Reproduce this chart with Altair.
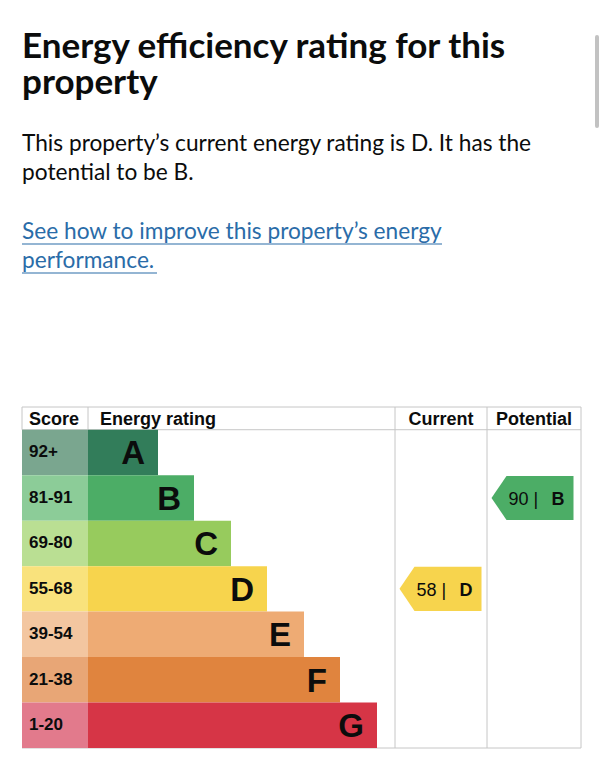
import altair as alt
import pandas as pd

# ---------------- data ----------------
ratings = ["A", "B", "C", "D", "E", "F", "G"]
score_ranges = ["92+", "81-91", "69-80", "55-68", "39-54", "21-38", "1-20"]
bar_ends = [136, 172, 209, 245, 282, 318, 355]  # right edge of each rating band
bar_colors = ["#327d5a", "#4cad66", "#97cb5d", "#f7d44d", "#eeab74", "#e0843e", "#d63546"]
score_colors = ["#7aa68f", "#8ccc98", "#badf93", "#f9e27c", "#f3c6a0", "#e8a676", "#e27a8c"]
headers = ["Score", "Energy rating", "Current", "Potential"]
arrow_columns = ["Current", "Potential"]
arrow_scores = [58, 90]
arrow_ratings = ["D", "B"]

title_lines = ["Energy efficiency rating for this", "property"]
intro_lines = ["This property\u2019s current energy rating is D. It has the", "potential to be B."]
link_lines = ["See how to improve this property\u2019s energy", "performance."]

# ---------------- layout ----------------
W, H = 559, 341
COL_SCORE, COL_ENERGY, COL_CURRENT, COL_POTENTIAL, COL_END = 0, 66, 373, 465, 559
HEADER = 0.5
Y_MAX = 7.5
FONT = "Liberation Sans"
PAGE_FONT = "Lato"
INK = "#0b0c0c"
LINE = "#c6c6c6"

xs = alt.Scale(domain=[0, W], nice=False, zero=False)
ys = alt.Scale(domain=[0, Y_MAX], nice=False, zero=False, reverse=True)

rows = pd.DataFrame({
    "rating": ratings,
    "score_range": score_ranges,
    "bar_end": bar_ends,
    "bar_color": bar_colors,
    "score_color": score_colors,
})
rows["top"] = [HEADER + i for i in range(len(ratings))]
rows["bot"] = rows["top"] + 1
rows["mid"] = rows["top"] + 0.5
rows["x_score"] = COL_SCORE
rows["x_energy"] = COL_ENERGY

grid = pd.DataFrame([
    {"x": 0, "x2": COL_END, "y": 0, "y2": 0},
    {"x": 0, "x2": COL_END, "y": HEADER, "y2": HEADER},
    {"x": 0, "x2": COL_END, "y": Y_MAX, "y2": Y_MAX},
    {"x": 0, "x2": 0, "y": 0, "y2": HEADER},
    {"x": COL_ENERGY, "x2": COL_ENERGY, "y": 0, "y2": HEADER},
    {"x": COL_CURRENT, "x2": COL_CURRENT, "y": 0, "y2": Y_MAX},
    {"x": COL_POTENTIAL, "x2": COL_POTENTIAL, "y": 0, "y2": Y_MAX},
    {"x": COL_END, "x2": COL_END, "y": 0, "y2": Y_MAX},
])

head_left = pd.DataFrame({"t": headers[:2], "x": [COL_SCORE, COL_ENERGY], "y": [HEADER / 2] * 2})
head_center = pd.DataFrame({
    "t": headers[2:],
    "x": [(COL_CURRENT + COL_POTENTIAL) / 2, (COL_POTENTIAL + COL_END) / 2],
    "y": [HEADER / 2] * 2,
})

mid_of = dict(zip(ratings, rows["mid"]))
color_of = dict(zip(ratings, bar_colors))
arrows = pd.DataFrame({
    "column": arrow_columns,
    "score": arrow_scores,
    "rating": arrow_ratings,
})
arrows["x"] = [COL_CURRENT + 45.5, COL_POTENTIAL + 45.5]
arrows["y"] = [mid_of[r] for r in arrow_ratings]
arrows["color"] = [color_of[r] for r in arrow_ratings]
arrows["label"] = [f"{s} |" for s in arrow_scores]

ARROW_PATH = "M -1 0 L -0.634 -0.537 L 1 -0.537 L 1 0.537 L -0.634 0.537 Z"

# ---------------- layers ----------------
grid_layer = alt.Chart(grid).mark_rule(color=LINE, strokeWidth=1).encode(
    x=alt.X("x:Q", scale=xs, axis=None), x2="x2:Q",
    y=alt.Y("y:Q", scale=ys, axis=None), y2="y2:Q",
)

score_cells = alt.Chart(rows).mark_rect().encode(
    x=alt.X("x_score:Q", scale=xs, axis=None), x2="x_energy:Q",
    y=alt.Y("top:Q", scale=ys, axis=None), y2="bot:Q",
    color=alt.Color("score_color:N", scale=None),
)

bars = alt.Chart(rows).mark_rect().encode(
    x=alt.X("x_energy:Q", scale=xs, axis=None), x2="bar_end:Q",
    y=alt.Y("top:Q", scale=ys, axis=None), y2="bot:Q",
    color=alt.Color("bar_color:N", scale=None),
)

score_text = alt.Chart(rows).mark_text(
    align="left", baseline="alphabetic", dx=7, dy=5, font=FONT, fontSize=17, fontWeight="bold", color=INK
).encode(
    x=alt.X("x_score:Q", scale=xs, axis=None),
    y=alt.Y("mid:Q", scale=ys, axis=None),
    text="score_range:N",
)

letters = alt.Chart(rows).mark_text(
    align="right", baseline="alphabetic", dx=-13, dy=12, font=FONT, fontSize=33, fontWeight="bold", color=INK
).encode(
    x=alt.X("bar_end:Q", scale=xs, axis=None),
    y=alt.Y("mid:Q", scale=ys, axis=None),
    text="rating:N",
)

head_score = alt.Chart(head_left.iloc[[0]]).mark_text(
    align="left", baseline="alphabetic", dx=7, dy=7, font=FONT, fontSize=18, fontWeight="bold", color=INK
).encode(x=alt.X("x:Q", scale=xs, axis=None), y=alt.Y("y:Q", scale=ys, axis=None), text="t:N")
head_energy = alt.Chart(head_left.iloc[[1]]).mark_text(
    align="left", baseline="alphabetic", dx=12, dy=7, font=FONT, fontSize=18, fontWeight="bold", color=INK
).encode(x=alt.X("x:Q", scale=xs, axis=None), y=alt.Y("y:Q", scale=ys, axis=None), text="t:N")
head_center_layer = alt.Chart(head_center).mark_text(
    align="center", baseline="alphabetic", dy=7, font=FONT, fontSize=18, fontWeight="bold", color=INK
).encode(x=alt.X("x:Q", scale=xs, axis=None), y=alt.Y("y:Q", scale=ys, axis=None), text="t:N")

arrow_shapes = alt.Chart(arrows).mark_point(
    shape=ARROW_PATH, size=6724, filled=True, opacity=1, strokeWidth=0
).encode(
    x=alt.X("x:Q", scale=xs, axis=None),
    y=alt.Y("y:Q", scale=ys, axis=None),
    color=alt.Color("color:N", scale=None),
)
arrow_nums = alt.Chart(arrows).mark_text(
    align="left", baseline="alphabetic", dx=-24, dy=7, font=FONT, fontSize=18, color=INK
).encode(x=alt.X("x:Q", scale=xs, axis=None), y=alt.Y("y:Q", scale=ys, axis=None), text="label:N")
arrow_letters = alt.Chart(arrows).mark_text(
    align="left", baseline="alphabetic", dx=19, dy=7, font=FONT, fontSize=18, fontWeight="bold", color=INK
).encode(x=alt.X("x:Q", scale=xs, axis=None), y=alt.Y("y:Q", scale=ys, axis=None), text="rating:N")

# ---------------- page text above the table ----------------
one = pd.DataFrame({"k": [0]})
heading = alt.Chart(pd.DataFrame({"t": ["\n".join(title_lines)]})).mark_text(
    align="left", baseline="alphabetic", lineBreak="\n", lineHeight=36,
    font=PAGE_FONT, fontSize=35, fontWeight="bold", color=INK
).encode(x=alt.value(0), y=alt.value(-349), text="t:N")
intro = alt.Chart(pd.DataFrame({"t": ["\n".join(intro_lines)]})).mark_text(
    align="left", baseline="alphabetic", lineBreak="\n", lineHeight=29,
    font=PAGE_FONT, fontSize=22.7, color=INK
).encode(x=alt.value(0), y=alt.value(-256), text="t:N")
LINK = "#2a6ca8"
link = alt.Chart(pd.DataFrame({"t": ["\n".join(link_lines)]})).mark_text(
    align="left", baseline="alphabetic", lineBreak="\n", lineHeight=29,
    font=PAGE_FONT, fontSize=22.7, color=LINK
).encode(x=alt.value(0), y=alt.value(-168), text="t:N")
underline1 = alt.Chart(one).mark_rule(color=LINK, strokeWidth=1.2).encode(
    x=alt.value(0), x2=alt.value(420), y=alt.value(-163))
underline2 = alt.Chart(one).mark_rule(color=LINK, strokeWidth=1.2).encode(
    x=alt.value(0), x2=alt.value(135), y=alt.value(-134))
scrollbar = alt.Chart(one).mark_rule(color="#c2c2c2", strokeWidth=4, strokeCap="round").encode(
    x=alt.value(575), y=alt.value(-370), y2=alt.value(-281))

chart = alt.layer(
    grid_layer, score_cells, bars, score_text, letters,
    head_score, head_energy, head_center_layer,
    arrow_shapes, arrow_nums, arrow_letters,
    heading, intro, link, underline1, underline2, scrollbar,
).properties(
    width=W, height=H,
    autosize=alt.AutoSizeParams(type="none"),
    padding={"left": 22, "top": 407, "right": 23, "bottom": 20},
    background="white",
).configure_view(stroke=None)

chart.save("out.html", embed_options={"renderer": "svg", "actions": False})
